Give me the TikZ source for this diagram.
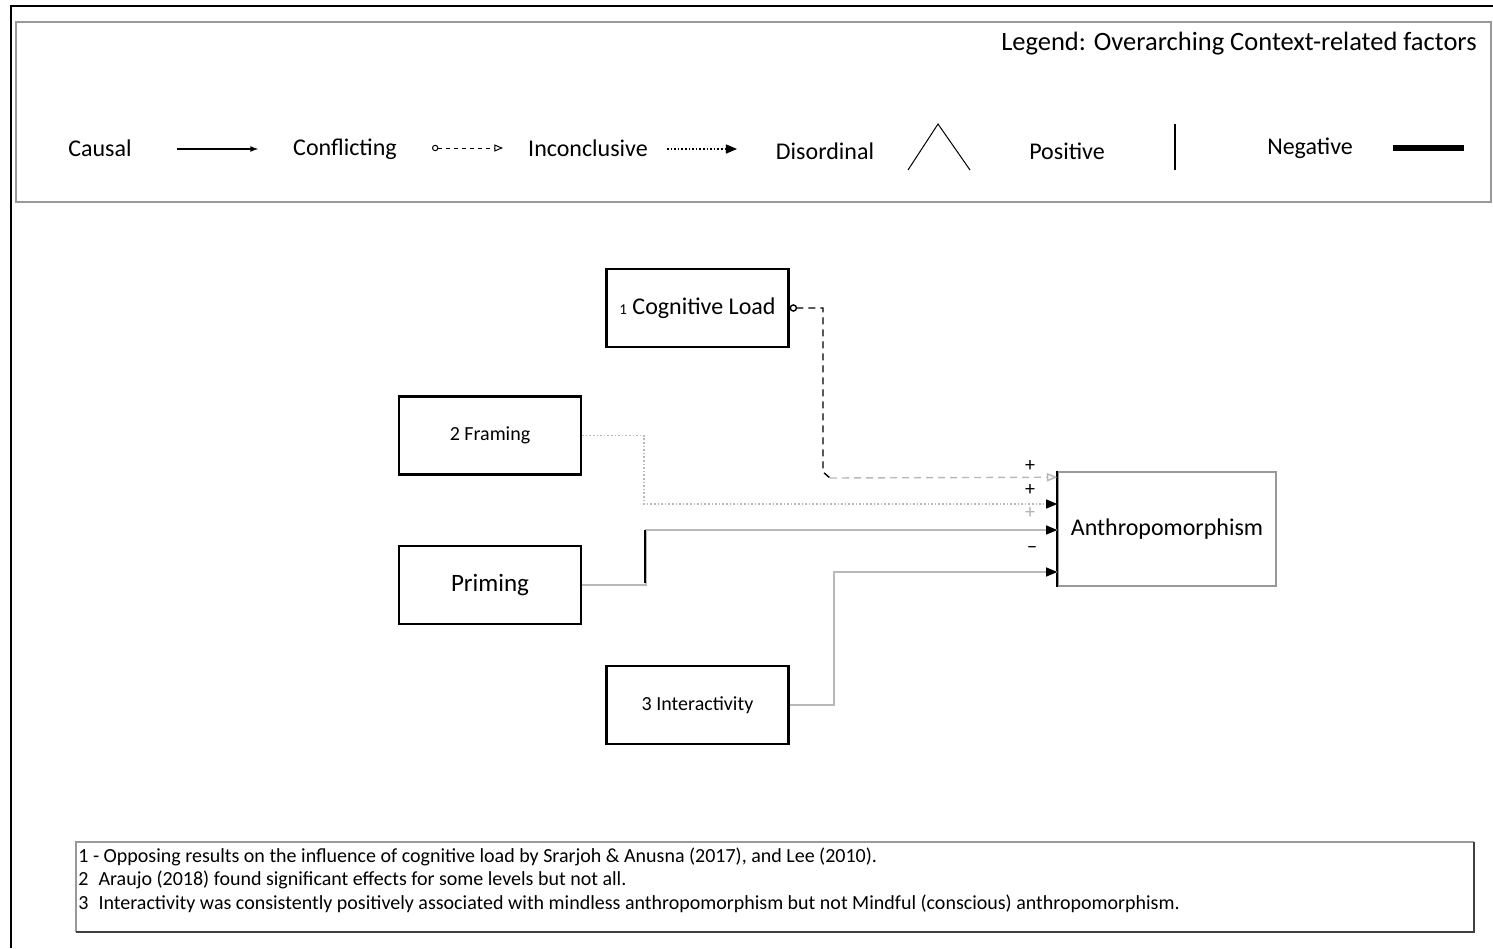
\documentclass[tikz,border=0pt]{standalone}
\usepackage{fontspec}
\setmainfont{Carlito}
\usepackage{tikz}
\usetikzlibrary{positioning, arrows}

\definecolor{linegray}{gray}{0.72}
\definecolor{boxgray}{gray}{0.6}

\tikzset{
  factor/.style={draw, line width=2.2pt, minimum width=182pt, minimum height=78pt, inner sep=0pt, font=\fontsize{24}{28}\selectfont},
  smalltext/.style={font=\fontsize{20}{24}\selectfont},
  legendtext/.style={font=\fontsize{24}{28}\selectfont, inner sep=0pt},
  footnote/.style={anchor=west, inner sep=0pt, font=\fontsize{20}{23}\selectfont},
  sign/.style={font=\fontsize{20}{22}\selectfont, inner sep=0pt},
  causal/.style={-latex, line width=1.6pt},
  conflicting/.style={dashed, line width=1.4pt, dash pattern=on 7pt off 5pt},
  inconclusive/.style={-latex, line width=1.6pt, dotted},
}

\begin{document}
\begin{tikzpicture}[x=1pt,y=-1pt,on grid,auto,thick]
			\useasboundingbox (0,0) rectangle (1493,948);
			% frame and boxes
			\draw[line width=2pt] (11,948) -- (11,6) -- (1493,6);
			\draw[boxgray, line width=1.6pt] (16,22) rectangle (1491,202);
			\draw[boxgray, line width=1.6pt] (76,932) -- (76,842) -- (1474,842);
			\draw[black!75, line width=2.2pt] (76,932) -- (1474,932) -- (1474,842);

			% legend
			\node[legendtext, anchor=east, font=\fontsize{26.5}{30}\selectfont] (title) at (1477,44) {Legend: Overarching Context-related factors};
			\node[legendtext] (lcausal) at (100,148) {Causal};
			\node[legendtext] (lconflict) at (345,149) {Conflicting};
			\node[legendtext] (lincon) at (588,148) {Inconclusive};
			\node[legendtext] (ldisord) at (825,151) {Disordinal};
			\node[legendtext] (lpos) at (1067,151) {Positive};
			\node[legendtext] (lneg) at (1310,148) {Negative};
			\draw[causal] (177,149) -- (258,149);
			\draw[conflicting, line width=1pt, dash pattern=on 4pt off 4pt, o-open triangle 45] (432,148) -- (503,148);
			\draw[inconclusive, -triangle 45] (667,149) -- (737,149);
			\draw[line width=1pt] (908,170) -- (938,124) -- (970,170);
			\draw[line width=2.2pt] (1175,124) -- (1175,170);
			\draw[line width=6pt] (1393,148) -- (1464,148);

			% factors
			\node[factor] (cogload) at (697.5,308) {{\fontsize{15}{17}\selectfont 1} Cognitive Load};
			\node[factor, smalltext] (framing) at (490,435.5) {2 Framing};
			\node[factor, font=\fontsize{25}{29}\selectfont] (priming) [below=149.5pt of framing] {Priming};
			\node[factor, smalltext] (inter) [below=397pt of cogload] {3 Interactivity};
			\node[draw=boxgray, line width=1.6pt, minimum width=218pt, minimum height=114pt, font=\fontsize{24}{28}\selectfont] (anthro) at (1167,529) {Anthropomorphism};
			\draw[line width=2.4pt] (anthro.north west) -- (anthro.south west);

			% connectors
			\coordinate (cbend) at (830,478);
			\draw[conflicting, o-] (cogload.east) -- (823,308) -- (823,472) -- (cbend);
			\draw[conflicting, linegray, -open triangle 45] (cbend) -- ([yshift=-6pt]anthro.north west);
			\draw[inconclusive, linegray, line width=1.8pt, -] (framing.east) -- ++(62,0) |- ([yshift=25pt]anthro.west);
			\draw[causal, linegray, line width=2pt, -] (priming.east) -- ++(64,0) |- ([yshift=-1pt]anthro.west);
			\draw[line width=2.2pt] (645,583) -- (645,530);
			\draw[causal, linegray, line width=2pt, -] (inter.east) -- ++(44,0) |- ([yshift=-43pt]anthro.west);
			% heads drawn black
			\foreach \dy in {25,-1,-43}
				\draw[-triangle 45, line width=1.6pt] ([xshift=-8pt,yshift=\dy pt]anthro.west) -- ([yshift=\dy pt]anthro.west);
			\node[sign] (s1) at (1030,466) {+};
			\node[sign] (s2) at (1030,490) {+};
			\node[sign, gray!60] (s3) at (1030,513) {+};
			\node[sign] (s4) at (1032,550) {−};

			% notes
			\node[footnote] (n1) at (78,857) {1 - Opposing results on the influence of cognitive load by Srarjoh \& Anusna (2017), and Lee (2010).};
			\node[footnote] (n2) at (78,880) {2\enspace Araujo (2018) found significant effects for some levels but not all.};
			\node[footnote] (n3) at (78,904) {3\enspace Interactivity was consistently positively associated with mindless anthropomorphism but not Mindful (conscious) anthropomorphism.};
	\end{tikzpicture}
\end{document}
